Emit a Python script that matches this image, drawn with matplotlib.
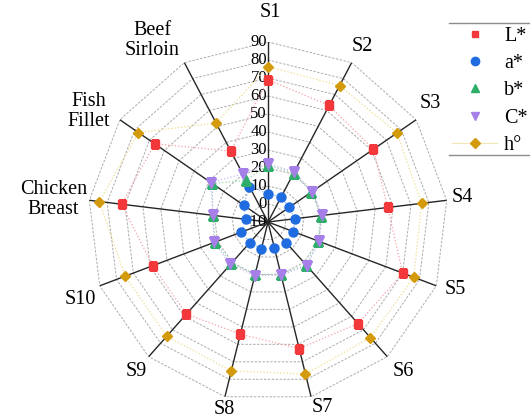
import numpy as np
import matplotlib.pyplot as plt
from matplotlib.lines import Line2D

plt.rcParams['font.family'] = ['Liberation Serif', 'DejaVu Serif']

# ---- samples ----
samples = ["S1", "S2", "S3", "S4", "S5", "S6", "S7", "S8", "S9", "S10",
           "Chicken\nBreast", "Fish\nFillet", "Beef\nSirloin"]

# ---- colour values ----
L_star = [69.0, 63.1, 61.2, 57.0, 70.0, 65.4, 62.4, 54.2, 58.3, 58.5, 71.9, 66.5, 34.5]
a_star = [5.7, 5.7, 4.2, 5.1, 5.0, 5.3, 4.9, 5.3, 5.3, 5.8, 2.5, 6.5, 12.2]
b_star = [21.7, 20.7, 19.3, 19.4, 19.9, 21.8, 19.8, 20.0, 20.8, 21.3, 20.8, 27.7, 16.1]
C_star = [22.4, 21.5, 19.8, 20.1, 20.5, 22.4, 20.4, 20.7, 21.5, 22.1, 20.9, 28.5, 20.2]
h_deg = [76.3, 75.6, 77.1, 76.0, 76.6, 75.8, 77.0, 75.2, 74.8, 74.9, 84.4, 77.5, 52.1]

r_ticks = list(range(-10, 91, 10))

# label offsets from the spoke ends (pixels)
lab_off = [(2, 30), (11, 16), (14, 16), (16, 3), (19, -4), (16, -15), (11, -11),
           (-1, -13), (-12, -15), (-19, -14), (-36, 1), (-31, 8), (-32, 22)]

n = len(samples)
theta = np.linspace(0, 2*np.pi, n, endpoint=False)
theta_c = np.append(theta, theta[0])

fig = plt.figure(figsize=(5.3, 4.2), dpi=100)
ax = fig.add_axes([88/530, 18/420, 360/530, 360/420], projection='polar')
ax.set_theta_zero_location('N')
ax.set_theta_direction(-1)
ax.set_ylim(-10, 90)
ax.grid(False)
ax.spines['polar'].set_visible(False)
ax.set_xticks([])
ax.set_yticks([])
ax.patch.set_alpha(0)

# ---- polygon grid ----
for v in r_ticks[1:]:
    ax.plot(theta_c, [v]*(n+1), color='#ababab', lw=0.7, ls=(0, (2.5, 1.5)), zorder=1)

# ---- spokes ----
for t in theta:
    ax.plot([t, t], [-10, 90], color='#262626', lw=1.0, zorder=2)

# ---- radial tick labels ----
for v in r_ticks:
    ax.annotate(str(v), (0, v), xytext=(-1, 0), textcoords='offset pixels',
                ha='right', va='center', fontsize=12, zorder=2)

# ---- sample labels ----
for t, s, off in zip(theta, samples, lab_off):
    ax.annotate(s, (t, 90), xytext=off, textcoords='offset pixels',
                ha='center', va='center', fontsize=14.5, linespacing=1.1,
                annotation_clip=False)

# ---- series ----
series = [
    ("L*", L_star, 's', 5.5, '#f2383a', '#f6a0a8'),
    ("a*", a_star, 'o', 6.5, '#1f6ce0', '#90b4ee'),
    ("b*", b_star, '^', 6.5, '#2eae6a', '#9ad8b2'),
    ("C*", C_star, 'v', 6.5, '#a77fe8', '#cdb6f2'),
    ("h°", h_deg, 'D', 5.5, '#d39b0b', '#eedc8c'),
]
handles = []
for i, (name, vals, mk, ms, col, lcol) in enumerate(series):
    vals = np.array(vals)
    ax.plot(theta_c, np.append(vals, vals[0]), color=lcol, lw=0.9, ls=':', zorder=3+i)
    ax.plot(theta, vals, ls='none', marker=mk, ms=ms, color=col, mec=col, zorder=10+i)
    # only the h° entry shows its line in the key
    ls = '-' if name == "h°" else 'none'
    handles.append(Line2D([], [], color='#f3e6b4', lw=0.8, ls=ls, marker=mk,
                          ms=ms - 0.5, mfc=col, mec=col))

fig.legend(handles, [s[0] for s in series], loc='upper left',
           bbox_to_anchor=(452/530, 1-27/420), bbox_transform=fig.transFigure,
           frameon=False, fontsize=14.5, handlelength=2.25, handletextpad=0.33,
           labelspacing=0.40, borderpad=0, borderaxespad=0)
fig.add_artist(Line2D([449/530, 1], [1-23/420, 1-23/420], color='#8c8c8c', lw=1))
fig.add_artist(Line2D([449/530, 1], [1-155/420, 1-155/420], color='#8c8c8c', lw=1))

plt.savefig("out.png", dpi=100)
